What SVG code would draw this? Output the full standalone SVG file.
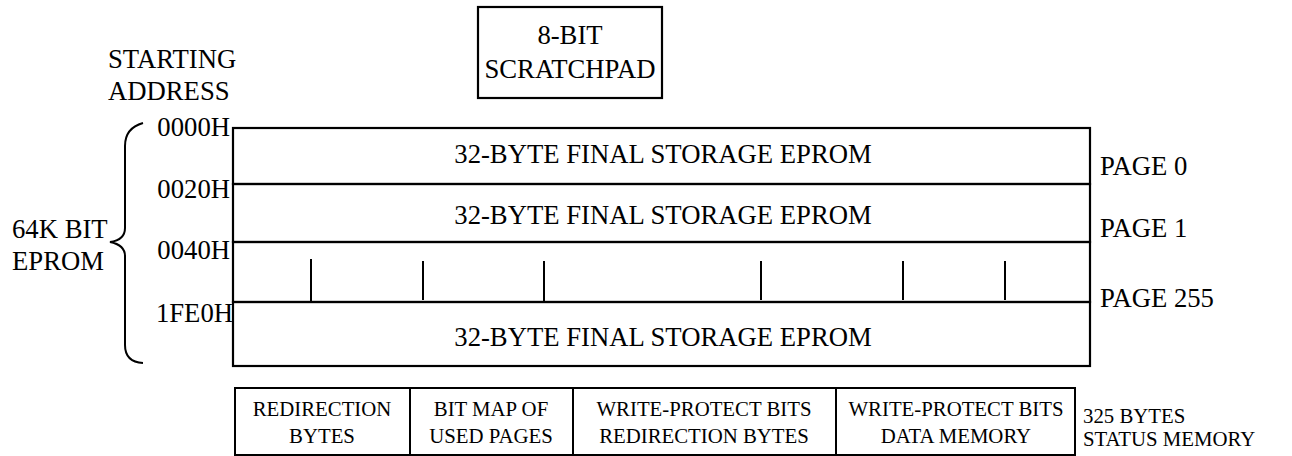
<svg xmlns="http://www.w3.org/2000/svg" width="1292" height="456" viewBox="0 0 1292 456">
<style>
.t{font-family:"Liberation Serif","Times New Roman",serif;font-size:26.7px;fill:#000}
.s{font-family:"Liberation Serif","Times New Roman",serif;font-size:20.8px;fill:#000}
.m{text-anchor:middle}
.e{text-anchor:end}
.ln{stroke:#000;stroke-width:2.2;fill:none}
.tk{stroke:#000;stroke-width:2;fill:none}
</style>
<rect width="1292" height="456" fill="#fff"/>
<g id="scratchpad">
<rect class="ln" x="478" y="7" width="184" height="91"/>
<text class="t m" x="570" y="44">8-BIT</text>
<text class="t m" x="570" y="78">SCRATCHPAD</text>
</g>
<g id="starting-address">
<text class="t" x="108" y="68">STARTING</text>
<text class="t" x="108" y="100">ADDRESS</text>
</g>
<g id="eprom-label">
<text class="t" x="12" y="238">64K BIT</text>
<text class="t" x="12" y="270">EPROM</text>
<path class="tk" d="M143,123 Q125,128 125,146 L125,228 Q125,240 110,242 Q125,245 125,256 L125,345 Q125,362 143,363"/>
</g>
<g id="addresses">
<text class="t e" x="230" y="136">0000H</text>
<text class="t e" x="230" y="198">0020H</text>
<text class="t e" x="230" y="259">0040H</text>
<text class="t e" x="233" y="322">1FE0H</text>
</g>
<g id="page0">
<rect class="ln" x="233" y="128" width="857" height="56"/>
<text class="t m" x="663" y="163">32-BYTE FINAL STORAGE EPROM</text>
<text class="t" x="1100" y="175">PAGE 0</text>
</g>
<g id="page1">
<rect class="ln" x="233" y="184" width="857" height="58"/>
<text class="t m" x="663" y="224">32-BYTE FINAL STORAGE EPROM</text>
<text class="t" x="1100" y="237">PAGE 1</text>
</g>
<g id="pages-middle">
<rect class="ln" x="233" y="242" width="857" height="60"/>
<line class="tk" x1="311" y1="259" x2="311" y2="302"/>
<line class="tk" x1="423" y1="261" x2="423" y2="300"/>
<line class="tk" x1="544" y1="261" x2="544" y2="302"/>
<line class="tk" x1="761" y1="261" x2="761" y2="300"/>
<line class="tk" x1="903" y1="261" x2="903" y2="300"/>
<line class="tk" x1="1005" y1="261" x2="1005" y2="300"/>
</g>
<g id="page255">
<rect class="ln" x="233" y="302" width="857" height="64"/>
<text class="t m" x="663" y="346">32-BYTE FINAL STORAGE EPROM</text>
<text class="t" x="1100" y="307">PAGE 255</text>
</g>
<g id="status-memory">
<rect class="tk" x="235" y="388" width="840" height="67"/>
<line class="tk" x1="410" y1="388" x2="410" y2="455"/>
<line class="tk" x1="573" y1="388" x2="573" y2="455"/>
<line class="tk" x1="836" y1="388" x2="836" y2="455"/>
<text class="s m" x="322" y="416">REDIRECTION</text>
<text class="s m" x="322" y="443">BYTES</text>
<text class="s m" x="491" y="416">BIT MAP OF</text>
<text class="s m" x="491" y="443">USED PAGES</text>
<text class="s m" x="704" y="416">WRITE-PROTECT BITS</text>
<text class="s m" x="704" y="443">REDIRECTION BYTES</text>
<text class="s m" x="956" y="416">WRITE-PROTECT BITS</text>
<text class="s m" x="956" y="443">DATA MEMORY</text>
<text class="s" x="1083" y="423">325 BYTES</text>
<text class="s" x="1083" y="446">STATUS MEMORY</text>
</g>
</svg>
